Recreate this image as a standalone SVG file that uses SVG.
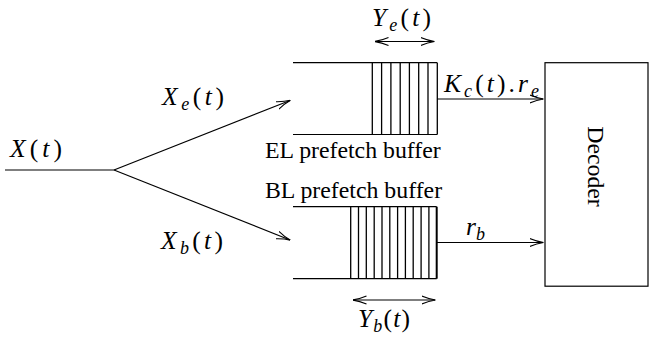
<svg xmlns="http://www.w3.org/2000/svg" width="649" height="339" viewBox="0 0 649 339">
<style>
  .ln { stroke: #000; stroke-width: 1.2; fill: none; }
  .st { stroke: #000; stroke-width: 1.3; }
  .tx { font-family: "Liberation Serif", "Times New Roman", serif; font-size: 23.8px; fill: #000; }
  .mt { font-family: "Liberation Serif", "Times New Roman", serif; font-size: 25.5px; fill: #000; }
  .it { font-style: italic; }
  .sb { font-size: 18px; font-style: italic; }
  .arr { stroke: #000; stroke-width: 1.2; fill: none; marker-end: url(#ah); }
  .dbl { stroke: #000; stroke-width: 1.2; fill: none; marker-end: url(#ah); marker-start: url(#ah); }
</style>
<defs>
  <marker id="ah" viewBox="0 0 14 10" refX="13.5" refY="5" markerWidth="14" markerHeight="10" markerUnits="userSpaceOnUse" orient="auto-start-reverse">
    <path d="M0,1 Q7,4 14,5 Q7,6 0,9" stroke="#000" stroke-width="1.1" fill="none"/>
  </marker>
</defs>
<rect width="649" height="339" fill="#fff"/>

<g id="connectors">
  <line class="ln" x1="5" y1="170" x2="114" y2="170"/>
  <line class="arr" x1="114" y1="170" x2="290" y2="100.5"/>
  <line class="arr" x1="114" y1="170" x2="290" y2="240"/>
  <line class="arr" x1="437" y1="99" x2="543" y2="99"/>
  <line class="arr" x1="437" y1="242.5" x2="543" y2="242.5"/>
  <line class="dbl" x1="375" y1="41.5" x2="434" y2="41.5"/>
  <line class="dbl" x1="353" y1="300" x2="435" y2="300"/>
</g>

<g id="el-buffer">
  <line class="ln" x1="293" y1="62.7" x2="437.3" y2="62.7"/>
  <line class="ln" x1="293" y1="134.5" x2="437.3" y2="134.5"/>
  <g class="st">
    <line x1="372.3" y1="62.7" x2="372.3" y2="134.5"/>
    <line x1="381.6" y1="62.7" x2="381.6" y2="134.5"/>
    <line x1="390.9" y1="62.7" x2="390.9" y2="134.5"/>
    <line x1="400.2" y1="62.7" x2="400.2" y2="134.5"/>
    <line x1="409.4" y1="62.7" x2="409.4" y2="134.5"/>
    <line x1="418.7" y1="62.7" x2="418.7" y2="134.5"/>
    <line x1="428.0" y1="62.7" x2="428.0" y2="134.5"/>
    <line x1="437.3" y1="62.7" x2="437.3" y2="134.5"/>
  </g>
  <text class="tx" x="265" y="157.7">EL prefetch buffer</text>
</g>

<g id="bl-buffer">
  <line class="ln" x1="293" y1="206.7" x2="436.7" y2="206.7"/>
  <line class="ln" x1="293" y1="278.7" x2="436.7" y2="278.7"/>
  <g class="st">
    <line x1="350.7" y1="206.7" x2="350.7" y2="278.7"/>
    <line x1="358.5" y1="206.7" x2="358.5" y2="278.7"/>
    <line x1="366.3" y1="206.7" x2="366.3" y2="278.7"/>
    <line x1="374.2" y1="206.7" x2="374.2" y2="278.7"/>
    <line x1="382.0" y1="206.7" x2="382.0" y2="278.7"/>
    <line x1="389.8" y1="206.7" x2="389.8" y2="278.7"/>
    <line x1="397.6" y1="206.7" x2="397.6" y2="278.7"/>
    <line x1="405.4" y1="206.7" x2="405.4" y2="278.7"/>
    <line x1="413.2" y1="206.7" x2="413.2" y2="278.7"/>
    <line x1="421.1" y1="206.7" x2="421.1" y2="278.7"/>
    <line x1="428.9" y1="206.7" x2="428.9" y2="278.7"/>
    <line x1="436.7" y1="206.7" x2="436.7" y2="278.7" stroke-width="2"/>
  </g>
  <text class="tx" x="265" y="198.3">BL prefetch buffer</text>
</g>

<g id="decoder">
  <rect class="ln" x="545" y="62.7" width="103" height="223.5"/>
  <text class="tx" text-anchor="middle" transform="translate(588,166.5) rotate(90)">Decoder</text>
</g>

<g id="labels">
  <text class="mt" x="10" y="157" textLength="52" lengthAdjust="spacing"><tspan class="it">X</tspan>(<tspan class="it">t</tspan>)</text>
  <text class="mt" x="162" y="105" textLength="62" lengthAdjust="spacing"><tspan class="it">X</tspan><tspan class="sb" dy="5">e</tspan><tspan dy="-5">(</tspan><tspan class="it">t</tspan>)</text>
  <text class="mt" x="161" y="249" textLength="62" lengthAdjust="spacing"><tspan class="it">X</tspan><tspan class="sb" dy="5">b</tspan><tspan dy="-5">(</tspan><tspan class="it">t</tspan>)</text>
  <text class="mt" x="372" y="26" textLength="59" lengthAdjust="spacing"><tspan class="it">Y</tspan><tspan class="sb" dy="5">e</tspan><tspan dy="-5">(</tspan><tspan class="it">t</tspan>)</text>
  <text class="mt" x="358" y="327" textLength="52" lengthAdjust="spacing"><tspan class="it">Y</tspan><tspan class="sb" dy="5">b</tspan><tspan dy="-5">(</tspan><tspan class="it">t</tspan>)</text>
  <text class="mt" x="444" y="92" textLength="95" lengthAdjust="spacing"><tspan class="it">K</tspan><tspan class="sb" dy="5">c</tspan><tspan dy="-5">(</tspan><tspan class="it">t</tspan>).<tspan class="it">r</tspan><tspan class="sb" dy="5">e</tspan></text>
  <text class="mt" x="466" y="235"><tspan class="it">r</tspan><tspan class="sb" dy="5">b</tspan></text>
</g>
</svg>
